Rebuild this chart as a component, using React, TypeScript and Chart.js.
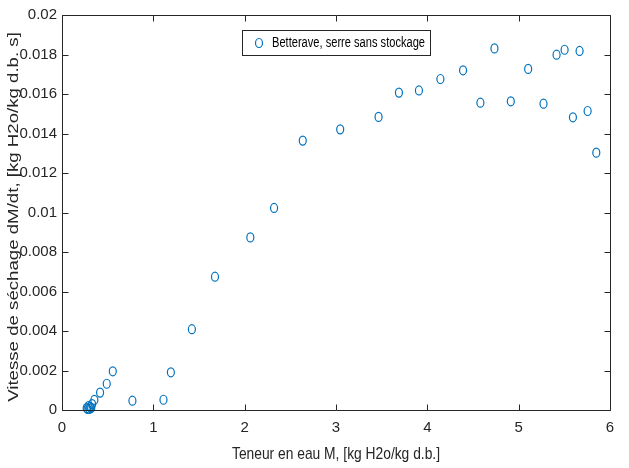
import React, { useEffect, useRef } from "react";
import { Chart, registerables } from "chart.js";

Chart.register(...registerables);

const seriesLabel = "Betterave, serre sans stockage";
const xTitle = "Teneur en eau M, [kg H2o/kg d.b.]";
const yTitle = "Vitesse de séchage dM/dt, [kg H2o/kg d.b. s]";

const moisture = [
  0.27, 0.28, 0.29, 0.3, 0.31, 0.32, 0.33, 0.354, 0.417, 0.49, 0.556, 0.771,
  1.111, 1.192, 1.422, 1.675, 2.062, 2.322, 2.636, 3.046, 3.466, 3.689, 3.908,
  4.143, 4.391, 4.581, 4.735, 4.914, 5.104, 5.272, 5.415, 5.503, 5.594, 5.667,
  5.755, 5.85,
];
const dryingRate = [
  0.0001, 0.00005, 0.0002, 0.00005, 0.00015, 0.0001, 0.0003, 0.00051, 0.00088,
  0.00133, 0.00196, 0.00047, 0.00052, 0.00191, 0.00409, 0.00675, 0.00874,
  0.01023, 0.01364, 0.01421, 0.01484, 0.01607, 0.01618, 0.01676, 0.0172,
  0.01556, 0.01831, 0.01563, 0.01727, 0.01551, 0.01799, 0.01824, 0.01482,
  0.01818, 0.01514, 0.01303,
];

const xTicks = [0, 1, 2, 3, 4, 5, 6];
const yTicks = [0, 0.002, 0.004, 0.006, 0.008, 0.01, 0.012, 0.014, 0.016, 0.018, 0.02];

const FONT = "'Liberation Sans', Arial, sans-serif";
const BLUE = "#0072BD";
const AXIS = "#262626";

// draws the scatter markers as MATLAB-like slightly tall open ellipses,
// at the positions computed by Chart.js for each data element
const markerPlugin = {
  id: "ellipseMarkers",
  afterDatasetsDraw(chart: any) {
    const { ctx } = chart;
    const meta = chart.getDatasetMeta(0);
    ctx.save();
    ctx.strokeStyle = BLUE;
    ctx.lineWidth = 1.2;
    meta.data.forEach((el: any) => {
      ctx.beginPath();
      ctx.ellipse(el.x, el.y, 3.5, 4.5, 0, 0, Math.PI * 2);
      ctx.stroke();
    });
    ctx.restore();
  },
};

const boxPlugin = {
  id: "matlabBox",
  afterDraw(chart: any) {
    const { ctx, chartArea } = chart;
    const { left, right, top, bottom } = chartArea;
    const xs = chart.scales.x;
    const ys = chart.scales.y;
    ctx.save();
    ctx.strokeStyle = AXIS;
    ctx.lineWidth = 1;
    ctx.beginPath();
    const L = Math.round(left) + 0.5;
    const R = Math.round(right) + 0.5;
    const T = Math.round(top) + 0.5;
    const B = Math.round(bottom) + 0.5;
    ctx.rect(L, T, R - L, B - T);
    const tl = 6;
    xTicks.forEach((v) => {
      const px = Math.round(xs.getPixelForValue(v)) + 0.5;
      ctx.moveTo(px, B);
      ctx.lineTo(px, B - tl);
      ctx.moveTo(px, T);
      ctx.lineTo(px, T + tl);
    });
    yTicks.forEach((v) => {
      const py = Math.round(ys.getPixelForValue(v)) + 0.5;
      ctx.moveTo(L, py);
      ctx.lineTo(L + tl, py);
      ctx.moveTo(R, py);
      ctx.lineTo(R - tl, py);
    });
    ctx.stroke();

    // axis titles
    ctx.fillStyle = AXIS;
    ctx.textAlign = "center";
    ctx.textBaseline = "alphabetic";
    ctx.font = `17px ${FONT}`;
    ctx.fillText(xTitle, (left + right) / 2, 459, 208);

    ctx.save();
    ctx.translate(18, 217);
    ctx.rotate(-Math.PI / 2);
    ctx.scale(1.13, 0.85);
    ctx.font = `16.5px ${FONT}`;
    ctx.fillText(yTitle, 0, 0);
    ctx.restore();

    // legend
    const lx = 242.5, ly = 30.5, lw = 188, lh = 25;
    ctx.fillStyle = "#ffffff";
    ctx.fillRect(lx, ly, lw, lh);
    ctx.strokeStyle = "#262626";
    ctx.strokeRect(lx, ly, lw, lh);
    ctx.strokeStyle = BLUE;
    ctx.lineWidth = 1.2;
    ctx.beginPath();
    ctx.ellipse(259, ly + lh / 2, 3.5, 4.5, 0, 0, Math.PI * 2);
    ctx.stroke();
    ctx.fillStyle = "#000000";
    ctx.font = `14px ${FONT}`;
    ctx.textBaseline = "middle";
    ctx.textAlign = "left";
    ctx.fillText(chart.data.datasets[0].label, 272, ly + lh / 2 + 0.5, 153);
    ctx.restore();
  },
};

export default function App() {
  const ref = useRef<HTMLCanvasElement>(null);
  useEffect(() => {
    if (!ref.current) return;
    const data = moisture.map((x, i) => ({ x, y: dryingRate[i] }));
    const chart = new Chart(ref.current, {
      type: "scatter",
      data: {
        datasets: [
          {
            label: seriesLabel,
            data,
            borderColor: "rgba(0,0,0,0)",
            backgroundColor: "rgba(0,0,0,0)",
            borderWidth: 0,
            pointRadius: 4,
            pointStyle: "circle",
          },
        ],
      },
      plugins: [markerPlugin, boxPlugin],
      options: {
        responsive: false,
        animation: false,
        layout: { padding: { top: 15, right: 19, left: 0, bottom: 0 } },
        plugins: {
          legend: { display: false },
          tooltip: { enabled: false },
        },
        scales: {
          x: {
            type: "linear",
            min: 0,
            max: 6,
            afterFit(scale: any) {
              scale.height = 58;
            },
            afterBuildTicks(scale: any) {
              scale.ticks = xTicks.map((v) => ({ value: v }));
            },
            grid: { display: false, drawTicks: false },
            border: { display: false },
            ticks: {
              color: AXIS,
              font: { family: FONT, size: 15 },
              padding: 9,
              callback: (v: any) => String(v),
            },
            title: { display: false },
          },
          y: {
            type: "linear",
            min: 0,
            max: 0.02,
            afterFit(scale: any) {
              scale.width = 62;
            },
            afterBuildTicks(scale: any) {
              scale.ticks = yTicks.map((v) => ({ value: v }));
            },
            grid: { display: false, drawTicks: false },
            border: { display: false },
            ticks: {
              color: AXIS,
              font: { family: FONT, size: 15 },
              padding: 5,
              callback: (v: any) => String(Number(v.toFixed(3))),
            },
            title: { display: false },
          },
        },
      },
    });
    return () => chart.destroy();
  }, []);
  return (
    <div style={{ position: "absolute", left: 0, top: 0, width: 629, height: 468, background: "#fff" }}>
      <canvas ref={ref} width={629} height={468} />
    </div>
  );
}
